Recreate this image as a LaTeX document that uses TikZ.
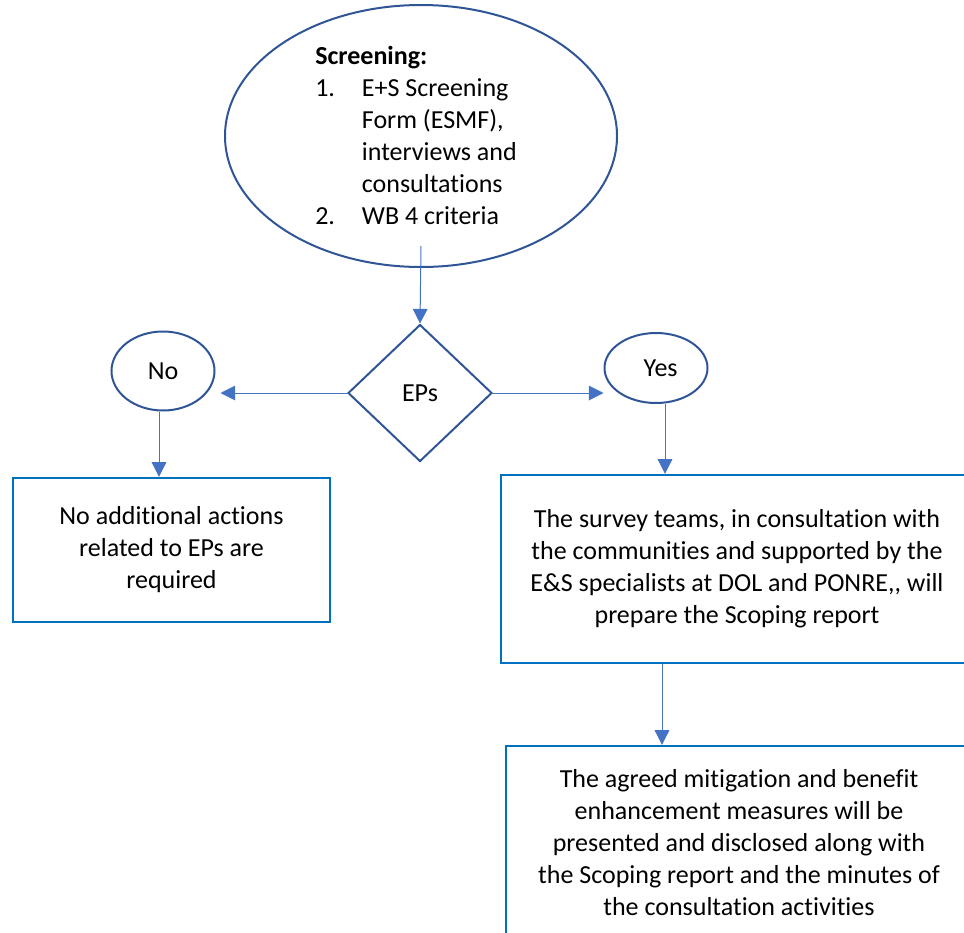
\documentclass[tikz,border=0pt]{standalone}
\usepackage{fontspec}
\setmainfont{Carlito}[Ligatures={NoCommon}]
\usetikzlibrary{shapes.geometric,arrows.meta}
\definecolor{ellblue}{RGB}{47,85,151}
\definecolor{connblue}{RGB}{68,114,196}
\definecolor{boxblue}{RGB}{0,112,192}
\tikzset{
  oval/.style={ellipse,draw=ellblue,line width=1.5pt,inner sep=0pt},
  decide/.style={diamond,draw=ellblue,line width=1.5pt,inner sep=0pt,
    minimum width=108pt,minimum height=102.75pt},
  actbox/.style={rectangle,draw=boxblue,line width=1.8pt,align=center,inner sep=0pt},
  conn/.style={draw=connblue,line width=0.75pt,-{Triangle[length=11pt,width=11pt]}}
}
\begin{document}
\begin{tikzpicture}[x=0.75pt,y=0.75pt,yscale=-1,xscale=1,
  font=\fontsize{19.5}{24}\selectfont]
\useasboundingbox (0,0) rectangle (964,932);
\clip (0,0) rectangle (964,932);
% Screening ellipse
\node[oval,minimum width=294pt,minimum height=196.5pt] (screen) at (421,136) {};
% Text Node
\node[anchor=west,align=left,inner sep=0pt] (scrtext) at (315,135)
  {\textbf{Screening:}\\
   \makebox[35pt][l]{1.}E+S Screening\\
   \hspace*{35pt}Form (ESMF),\\
   \hspace*{35pt}interviews and\\
   \hspace*{35pt}consultations\\
   \makebox[35pt][l]{2.}WB 4 criteria};
% Decision
\node[decide] (dec) at (420,393) {EPs};
% No / Yes
\node[oval,minimum width=77.25pt,minimum height=59.25pt] (no) at (163,371) {No};
\node[oval,minimum width=77.25pt,minimum height=52.5pt] (yes) at (656,368) {\hspace*{7pt}Yes};
% Boxes
\node[actbox,minimum width=237.75pt,minimum height=108pt] (nobox) at (171.5,550)
  {No additional actions\\ related to EPs are\\ required};
\node[actbox,minimum width=360pt,minimum height=141pt] (yesbox) at (741,569)
  {\hspace*{-6pt}The survey teams, in consultation with\\
   \hspace*{-6pt}the communities and supported by the\\
   \hspace*{-6pt}E\&S specialists at DOL and PONRE,{}, will\\
   \hspace*{-6pt}prepare the Scoping report};
\node[actbox,minimum width=352.5pt,minimum height=145.5pt] (endbox) at (741,843)
  {\hspace*{-3pt}The agreed mitigation and benefit\\
   \hspace*{-3pt}enhancement measures will be\\
   \hspace*{-3pt}presented and disclosed along with\\
   \hspace*{-3pt}the Scoping report and the minutes of\\
   \hspace*{-3pt}the consultation activities};
% Connectors
\draw[conn] ([yshift=-16.5pt]screen.south) -- (dec.north);
\draw[conn] (dec.west) -- ([xshift=3.75pt]dec.west -| no.east);
\draw[conn] (dec.east) -- (dec.east -| yes.west);
\draw[conn] ([xshift=-3pt]no.south) -- ([xshift=-3pt]no.south |- nobox.north);
\draw[conn] ([xshift=6.75pt]yes.south) -- ([xshift=6.75pt]yes.south |- yesbox.north);
\draw[conn] ([xshift=-59.25pt]yesbox.south) -- ([xshift=-59.25pt]yesbox.south |- endbox.north);
\end{tikzpicture}
\end{document}
